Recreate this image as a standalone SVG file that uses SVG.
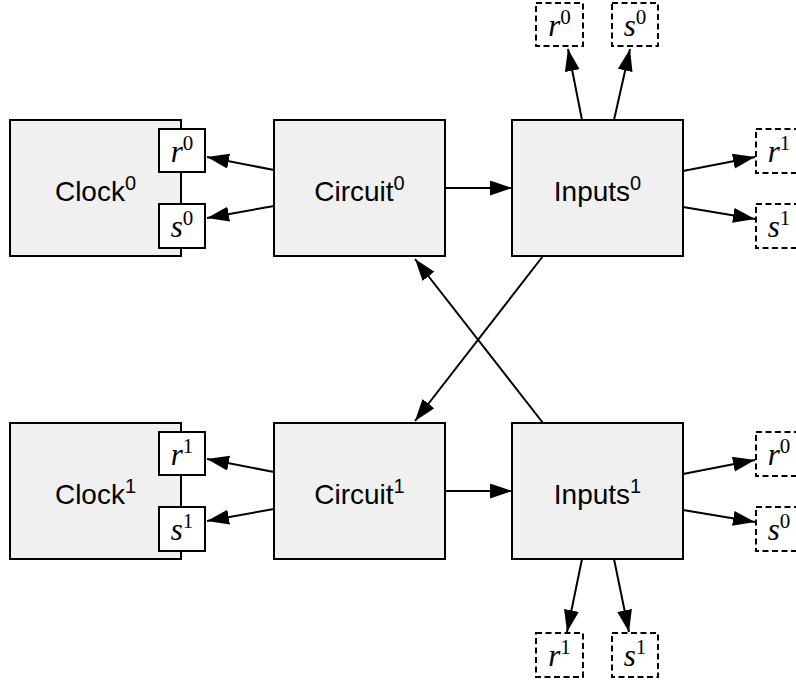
<svg xmlns="http://www.w3.org/2000/svg" width="796" height="681" viewBox="0 0 796 681">
  <defs>
    <marker id="arrow" markerUnits="userSpaceOnUse" markerWidth="24" markerHeight="16" refX="22" refY="7.5" orient="auto">
      <path d="M0,0 L22,7.5 L0,15 z" fill="#000"/>
    </marker>
    <style>
      .box { fill: #f0f0f0; stroke: #000; stroke-width: 2; }
      .port { fill: #fff; stroke: #000; stroke-width: 2; }
      .ext { fill: #fff; stroke: #000; stroke-width: 2; stroke-dasharray: 6 3.5; }
      .edge { fill: none; stroke: #000; stroke-width: 2; marker-end: url(#arrow); }
      .lbl { font-family: "Liberation Sans", Arial, sans-serif; font-size: 28px; fill: #000; text-anchor: middle; }
      .sup { font-size: 20px; }
      .math { font-family: "Liberation Serif", "Times New Roman", serif; font-size: 31px; fill: #000; text-anchor: middle; }
      .math .sup { font-size: 21px; }
      .mi { font-style: italic; }
    </style>
  </defs>

  <!-- connectors -->
  <g id="edges">
    <!-- row 0 -->
    <line class="edge" x1="274" y1="170" x2="207" y2="157"/>
    <line class="edge" x1="274" y1="206" x2="207" y2="218"/>
    <line class="edge" x1="444" y1="188" x2="512" y2="188"/>
    <line class="edge" x1="582" y1="120" x2="568" y2="49"/>
    <line class="edge" x1="614" y1="120" x2="630" y2="49"/>
    <line class="edge" x1="683" y1="171" x2="755" y2="157"/>
    <line class="edge" x1="683" y1="207" x2="755" y2="219"/>
    <!-- crossing -->
    <line class="edge" x1="543" y1="256" x2="415" y2="421"/>
    <line class="edge" x1="543" y1="423" x2="415" y2="259"/>
    <!-- row 1 -->
    <line class="edge" x1="274" y1="472" x2="207" y2="459"/>
    <line class="edge" x1="274" y1="509" x2="207" y2="521"/>
    <line class="edge" x1="444" y1="491" x2="512" y2="491"/>
    <line class="edge" x1="582" y1="559" x2="567" y2="632"/>
    <line class="edge" x1="614" y1="559" x2="629" y2="632"/>
    <line class="edge" x1="683" y1="474" x2="755" y2="460"/>
    <line class="edge" x1="683" y1="510" x2="755" y2="522"/>
  </g>

  <!-- row 0 nodes -->
  <g id="clock0">
    <rect class="box" x="10" y="120" width="171" height="136"/>
    <text class="lbl" x="95.5" y="201">Clock<tspan class="sup" dy="-11">0</tspan></text>
    <g id="clock0-r">
      <rect class="port" x="159" y="129" width="46" height="43"/>
      <text class="math" x="182" y="162"><tspan class="mi">r</tspan><tspan class="sup" dy="-12">0</tspan></text>
    </g>
    <g id="clock0-s">
      <rect class="port" x="159" y="204" width="46" height="44"/>
      <text class="math" x="182" y="237"><tspan class="mi">s</tspan><tspan class="sup" dy="-12">0</tspan></text>
    </g>
  </g>
  <g id="circuit0">
    <rect class="box" x="274" y="120" width="171" height="136"/>
    <text class="lbl" x="359.5" y="201">Circuit<tspan class="sup" dy="-11">0</tspan></text>
  </g>
  <g id="inputs0">
    <rect class="box" x="512" y="120" width="171" height="136"/>
    <text class="lbl" x="597.5" y="201">Inputs<tspan class="sup" dy="-11">0</tspan></text>
  </g>
  <g id="inputs0-r0">
    <rect class="ext" x="536" y="3" width="47" height="43"/>
    <text class="math" x="559.5" y="36"><tspan class="mi">r</tspan><tspan class="sup" dy="-12">0</tspan></text>
  </g>
  <g id="inputs0-s0">
    <rect class="ext" x="612" y="3" width="46" height="43"/>
    <text class="math" x="635" y="36"><tspan class="mi">s</tspan><tspan class="sup" dy="-12">0</tspan></text>
  </g>
  <g id="inputs0-r1">
    <rect class="ext" x="756" y="129" width="46" height="44"/>
    <text class="math" x="779" y="162"><tspan class="mi">r</tspan><tspan class="sup" dy="-12">1</tspan></text>
  </g>
  <g id="inputs0-s1">
    <rect class="ext" x="756" y="204" width="46" height="44"/>
    <text class="math" x="779" y="237"><tspan class="mi">s</tspan><tspan class="sup" dy="-12">1</tspan></text>
  </g>

  <!-- row 1 nodes -->
  <g id="clock1">
    <rect class="box" x="10" y="423" width="171" height="136"/>
    <text class="lbl" x="95.5" y="504">Clock<tspan class="sup" dy="-11">1</tspan></text>
    <g id="clock1-r">
      <rect class="port" x="159" y="432" width="46" height="43"/>
      <text class="math" x="182" y="465"><tspan class="mi">r</tspan><tspan class="sup" dy="-12">1</tspan></text>
    </g>
    <g id="clock1-s">
      <rect class="port" x="159" y="507" width="46" height="44"/>
      <text class="math" x="182" y="540"><tspan class="mi">s</tspan><tspan class="sup" dy="-12">1</tspan></text>
    </g>
  </g>
  <g id="circuit1">
    <rect class="box" x="274" y="423" width="171" height="136"/>
    <text class="lbl" x="359.5" y="504">Circuit<tspan class="sup" dy="-11">1</tspan></text>
  </g>
  <g id="inputs1">
    <rect class="box" x="512" y="423" width="171" height="136"/>
    <text class="lbl" x="597.5" y="504">Inputs<tspan class="sup" dy="-11">1</tspan></text>
  </g>
  <g id="inputs1-r0">
    <rect class="ext" x="756" y="432" width="46" height="44"/>
    <text class="math" x="779" y="465"><tspan class="mi">r</tspan><tspan class="sup" dy="-12">0</tspan></text>
  </g>
  <g id="inputs1-s0">
    <rect class="ext" x="756" y="507" width="46" height="44"/>
    <text class="math" x="779" y="540"><tspan class="mi">s</tspan><tspan class="sup" dy="-12">0</tspan></text>
  </g>
  <g id="inputs1-r1">
    <rect class="ext" x="536" y="633" width="47" height="44"/>
    <text class="math" x="559.5" y="666"><tspan class="mi">r</tspan><tspan class="sup" dy="-12">1</tspan></text>
  </g>
  <g id="inputs1-s1">
    <rect class="ext" x="612" y="633" width="46" height="44"/>
    <text class="math" x="635" y="666"><tspan class="mi">s</tspan><tspan class="sup" dy="-12">1</tspan></text>
  </g>
</svg>
